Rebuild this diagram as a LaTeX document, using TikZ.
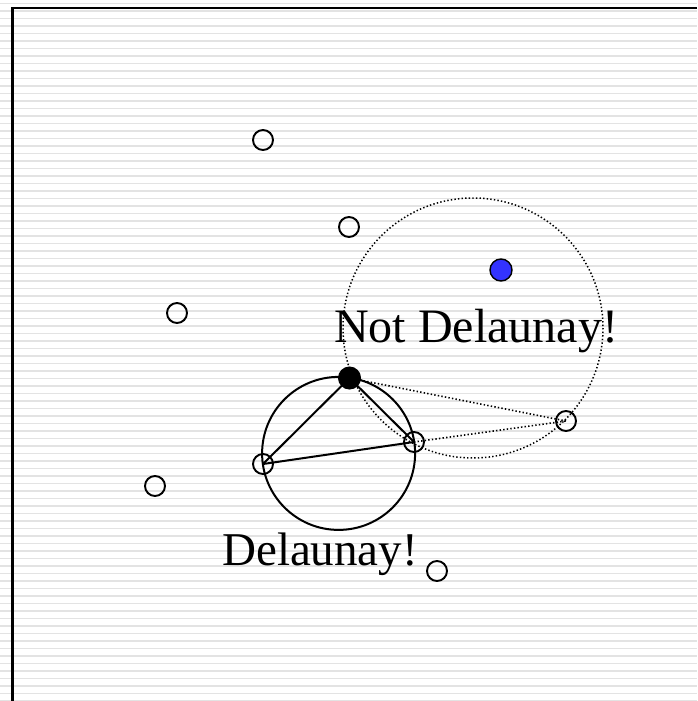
\documentclass[tikz,border=0pt]{standalone}
\usepackage{fontspec}
\setmainfont{Liberation Serif}
\begin{document}
\begin{tikzpicture}[x=1pt,y=-1pt,
  pt/.style={circle,draw=black,line width=1.9pt,minimum size=20pt,inner sep=0pt},
  blackpt/.style={circle,draw=black,fill=black,line width=1pt,minimum size=22pt,inner sep=0pt},
  bluept/.style={circle,draw=black,fill=blue!80!white,line width=1.4pt,minimum size=22pt,inner sep=0pt},
  edge/.style={line width=2pt,black},
  dotedge/.style={line width=1.6pt,black,dash pattern=on 1.4pt off 2.2pt},
  lbl/.style={font=\fontsize{47}{56}\selectfont,inner sep=0pt,anchor=base west}]
\useasboundingbox (0,0) rectangle (697,701);
% striped background
\foreach \k in {0,...,93} {
  \draw[line width=1.8pt,color=black!11] (0,{3.5+7.5*\k}) -- (697,{3.5+7.5*\k});
}
% frame
\draw[line width=2.4pt,black] (12.5,701) -- (12.5,8) -- (697,8);
% circles
\draw[line width=2pt] (338.6,453.4) circle[radius=76.5];
\draw[dotedge,line width=1.5pt] (473,328) circle[radius=130];
% points
\node[pt] (p1) at (263,140) {};
\node[pt] (p2) at (349,227) {};
\node[pt] (p3) at (177,313) {};
\node[pt] (p4) at (155,486) {};
\node[pt] (p5) at (437,571) {};
\node[pt] (a) at (263,464) {};
\node[pt] (c) at (414,442) {};
\node[pt] (d) at (566,421) {};
\node[bluept] (q) at (501,270) {};
% edges
\draw[edge] (a.center) -- (c.center);
\draw[edge] (a.center) -- (349.5,378);
\draw[edge] (349.5,378) -- (c.center);
\draw[dotedge] (349.5,378) -- (d.center);
\draw[dotedge] (c.center) -- (d.center);
\node[blackpt] (b) at (349.5,378) {};
% labels
\node[lbl,font=\fontsize{48}{58}\selectfont] (nd) at (334,342) {Not Delaunay!};
\node[lbl] (dl) at (222,565) {Delaunay!};
\end{tikzpicture}
\end{document}
